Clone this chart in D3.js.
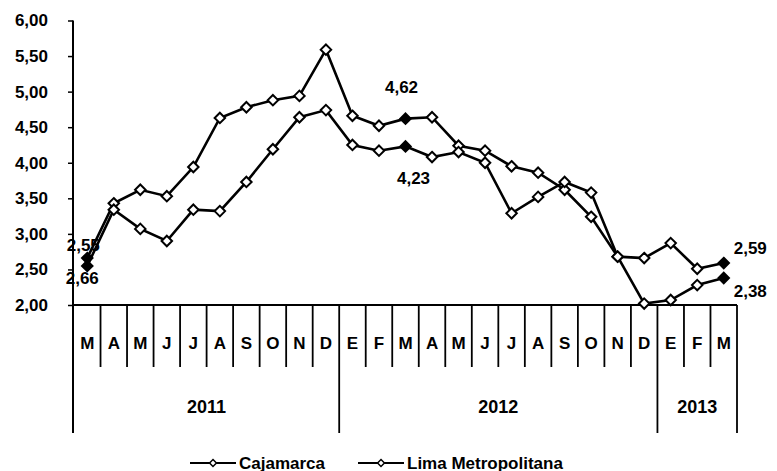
<!DOCTYPE html>
<html>
<head>
<meta charset="utf-8">
<script src="https://cdn.jsdelivr.net/npm/d3@7"></script>
<style>
  body { margin: 0; background: #fff; }
  svg text { font-family: "Liberation Sans", Arial, sans-serif; font-weight: bold; fill: #000; }
</style>
</head>
<body>
<div id="chart"></div>
<script>
// months from March 2011 to March 2013
const months = ["M","A","M","J","J","A","S","O","N","D","E","F","M","A","M","J","J","A","S","O","N","D","E","F","M"];
const yearLabels = ["2011", "2012", "2013"];
const yearSpans = [10, 12, 3];
const yTicks = [2, 2.5, 3, 3.5, 4, 4.5, 5, 5.5, 6];
const cajamarca = [2.66, 3.43, 3.62, 3.53, 3.94, 4.63, 4.78, 4.88, 4.94, 5.59, 4.66, 4.52, 4.62, 4.64, 4.24, 4.17, 3.95, 3.86, 3.62, 3.24, 2.68, 2.66, 2.87, 2.51, 2.59];
const lima = [2.55, 3.34, 3.07, 2.90, 3.34, 3.32, 3.73, 4.19, 4.64, 4.74, 4.25, 4.17, 4.23, 4.08, 4.15, 4.00, 3.29, 3.52, 3.73, 3.58, 2.68, 2.02, 2.07, 2.28, 2.38];
const seriesNames = ["Cajamarca", "Lima Metropolitana"];
const highlighted = [0, 12, 24];

const W = 777, H = 471;
const svg = d3.select("#chart").append("svg")
    .attr("width", W).attr("height", H);

const x = d3.scaleBand().domain(d3.range(months.length)).range([74, 737]);
const y = d3.scaleLinear().domain([2, 6]).range([305, 20.5]);
const fmt = v => d3.format(".2f")(v).replace(".", ",");

// y axis
const yAxis = svg.append("g")
    .attr("transform", "translate(73,0)")
    .call(d3.axisLeft(y).tickValues(yTicks).tickSize(5).tickPadding(20).tickFormat(fmt));
yAxis.select(".domain").remove();
yAxis.selectAll(".tick line").attr("stroke", "#000").attr("stroke-width", 1.5);
yAxis.selectAll("text").style("font-size", "17px");

// left axis line, down through the year rows
svg.append("line")
    .attr("x1", 73).attr("x2", 73).attr("y1", y(6)).attr("y2", 433)
    .attr("stroke", "#000").attr("stroke-width", 2);

// category axis
svg.append("line")
    .attr("x1", 73).attr("x2", x.range()[1]).attr("y1", y(2)).attr("y2", y(2))
    .attr("stroke", "#000").attr("stroke-width", 2);

const yearBounds = Array.from(d3.cumsum(yearSpans));
const yearStarts = [0].concat(yearBounds.slice(0, -1));
const bounds = d3.range(1, months.length + 1);
svg.selectAll(".sep")
    .data(bounds)
    .enter().append("line")
    .attr("class", "sep")
    .attr("x1", d => x(d - 1) + x.bandwidth())
    .attr("x2", d => x(d - 1) + x.bandwidth())
    .attr("y1", y(2))
    .attr("y2", d => yearBounds.includes(d) ? 433 : 367)
    .attr("stroke", "#000").attr("stroke-width", 1.8);

svg.selectAll(".month")
    .data(months)
    .enter().append("text")
    .attr("class", "month")
    .attr("x", (d, i) => x(i) + x.bandwidth() / 2)
    .attr("y", 343)
    .attr("text-anchor", "middle")
    .attr("dominant-baseline", "central")
    .style("font-size", "17px")
    .text(d => d);

svg.selectAll(".year")
    .data(yearLabels)
    .enter().append("text")
    .attr("class", "year")
    .attr("x", (d, i) => (x(yearStarts[i]) + x(yearBounds[i] - 1) + x.bandwidth()) / 2)
    .attr("y", 407)
    .attr("text-anchor", "middle")
    .attr("dominant-baseline", "central")
    .style("font-size", "18px")
    .text(d => d);

// lines and markers
const line = d3.line()
    .x((d, i) => x(i) + x.bandwidth() / 2)
    .y(d => y(d));
const diamond = d3.symbol().type(d3.symbolDiamond2).size(70);

[cajamarca, lima].forEach(function(data) {
  svg.append("path")
      .datum(data)
      .attr("d", line)
      .attr("fill", "none")
      .attr("stroke", "#000")
      .attr("stroke-width", 2.6);

  svg.selectAll(null)
      .data(data)
      .enter().append("path")
      .attr("d", diamond)
      .attr("transform", (d, i) => "translate(" + (x(i) + x.bandwidth() / 2) + "," + y(d) + ")")
      .attr("fill", (d, i) => highlighted.includes(i) ? "#000" : "#fff")
      .attr("stroke", "#000")
      .attr("stroke-width", 2);
});

// value labels
const labels = [
  {v: lima[0], i: 0, dx: -4, dy: -20, anchor: "middle"},
  {v: cajamarca[0], i: 0, dx: -5, dy: 20, anchor: "middle"},
  {v: cajamarca[12], i: 12, dx: -4, dy: -31, anchor: "middle"},
  {v: lima[12], i: 12, dx: 8, dy: 32, anchor: "middle"},
  {v: cajamarca[24], i: 24, dx: 10, dy: -15, anchor: "start"},
  {v: lima[24], i: 24, dx: 10, dy: 14, anchor: "start"}
];
svg.selectAll(".vlabel")
    .data(labels)
    .enter().append("text")
    .attr("class", "vlabel")
    .attr("x", d => x(d.i) + x.bandwidth() / 2 + d.dx)
    .attr("y", d => y(d.v) + d.dy)
    .attr("text-anchor", d => d.anchor)
    .attr("dominant-baseline", "central")
    .style("font-size", "17px")
    .text(d => fmt(d.v));

// legend
const legendX = [190, 358];
const legend = svg.selectAll(".legend")
    .data(seriesNames)
    .enter().append("g")
    .attr("class", "legend")
    .attr("transform", (d, i) => "translate(" + legendX[i] + ",463)");
legend.append("line")
    .attr("x1", 0).attr("x2", 46)
    .attr("stroke", "#000").attr("stroke-width", 2);
legend.append("path")
    .attr("d", d3.symbol().type(d3.symbolDiamond2).size(30))
    .attr("transform", "translate(23,0)")
    .attr("fill", "#fff").attr("stroke", "#000").attr("stroke-width", 1.5);
legend.append("text")
    .attr("x", 49)
    .attr("dominant-baseline", "central")
    .style("font-size", "17px")
    .text(d => d);
</script>
</body>
</html>
